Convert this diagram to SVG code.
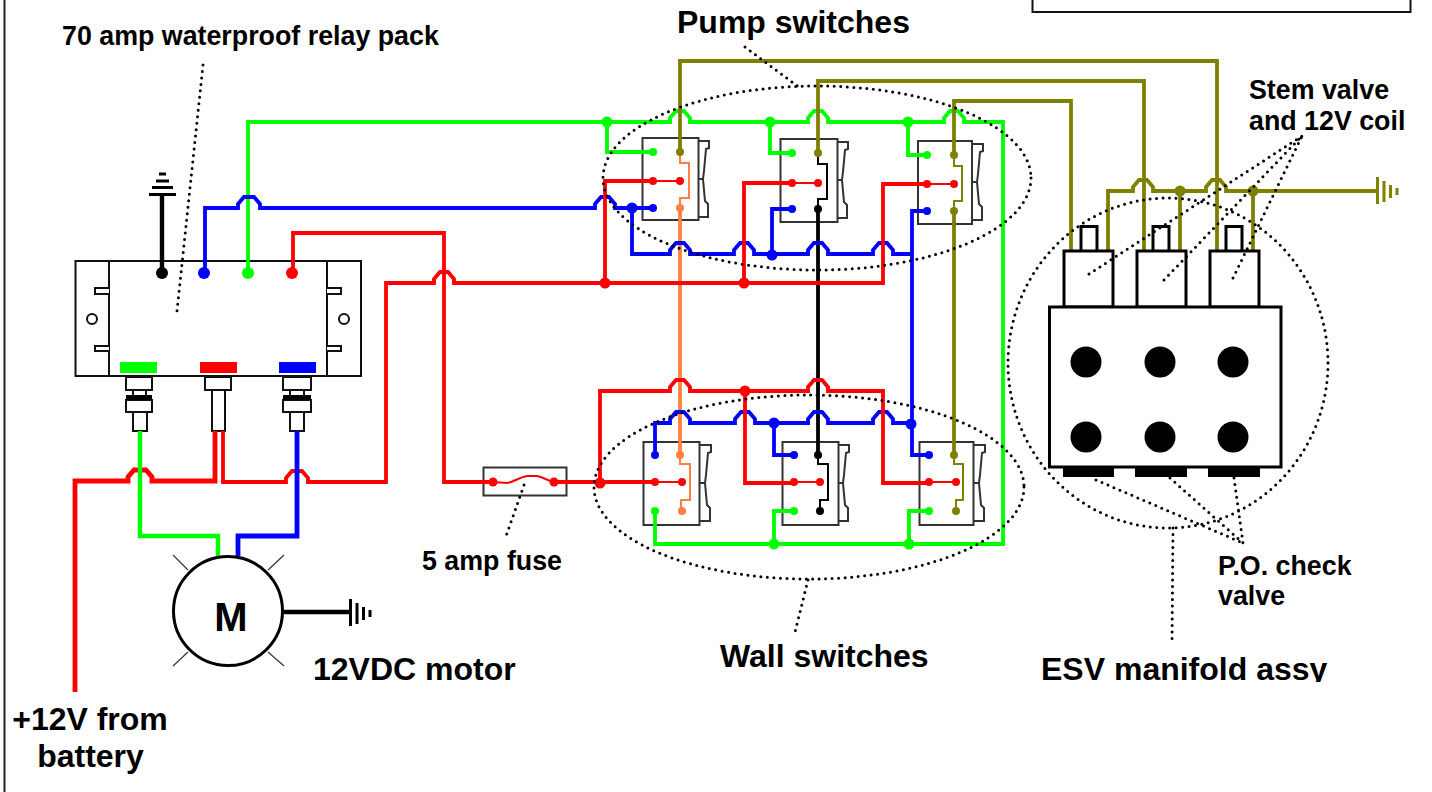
<svg xmlns="http://www.w3.org/2000/svg" width="1432" height="792" viewBox="0 0 1432 792">
<style>
text{font-family:"Liberation Sans",Arial,sans-serif;font-weight:bold;fill:#000}
.s{font-size:26.800px}.l{font-size:32px}
.w{fill:none;stroke-linejoin:miter}
.t{stroke-width:3.800}.n{stroke-width:2}.k{stroke-width:4.800}.h{stroke-width:4.400}
.g{stroke:#00ff00}.b{stroke:#0000ff}.r{stroke:#ff0000}.o{stroke:#808000}.a{stroke:#ff8040}.K{stroke:#000}
.box{fill:#fff;stroke:#333;stroke-width:2}
.rk{fill:none;stroke:#333;stroke-width:2}
.bk{fill:#fff;stroke:#111;stroke-width:2}
.m{fill:#fff;stroke:#000;stroke-width:3}
.dot{fill:none;stroke:#000;stroke-width:3;stroke-linecap:round;stroke-dasharray:0 6.500}
.fg{fill:#00ff00}.fb{fill:#0000ff}.fr{fill:#ff0000}.fo{fill:#808000}.fa{fill:#ff8040}.fk{fill:#000}
</style>
<defs>
<path id="rocker" d="M0 3H11V10L8 11L6 33L5 41L7 63L10 66V79H0M0 41H5"/>
<clipPath id="esvclip"><rect x="1030" y="640" width="310" height="42"/></clipPath>
</defs>
<rect width="1432" height="792" fill="#fff"/>
<path d="M4.500 0V792" stroke="#222" stroke-width="2" fill="none"/>
<rect x="1032.500" y="-4" width="378" height="16" fill="#fff" stroke="#111" stroke-width="2"/>

<g id="relay-pack">
<rect x="75.500" y="261" width="285.500" height="115" class="bk"/>
<path d="M109 261V376M327 261V376" stroke="#111" stroke-width="2"/>
<path class="bk" d="M109 288H95V294H109M109 346H95V351H109M327 288H341V294H327M327 346H341V351H327"/>
<circle cx="92" cy="319" r="5" class="bk"/><circle cx="344" cy="319" r="5" class="bk"/>
<rect x="120" y="362" width="37" height="11" class="fg"/>
<rect x="200" y="362" width="37" height="11" class="fr"/>
<rect x="279" y="362" width="37" height="11" class="fb"/>
<circle cx="162" cy="273" r="6" class="fk"/><circle cx="204" cy="273" r="6" class="fb"/><circle cx="248" cy="273" r="6" class="fg"/><circle cx="292" cy="273" r="6" class="fr"/>
<path d="M149 194.500H176M152 187.500H173M156 181H169M159 174H166" stroke="#000" stroke-width="3" fill="none"/>
<path class="bk" d="M126 377H152V390H126ZM133 390H146V396H133ZM126 400H152V412H126ZM133 412H147V431H133Z"/>
<rect x="126" y="395" width="26" height="5" class="fk"/>
<path class="bk" d="M205 377H231V390H205ZM212 390H225V431H212Z"/>
<path class="bk" d="M283 377H311V390H283ZM290 390H304V396H290ZM283 400H311V412H283ZM290 412H304V431H290Z"/>
<rect x="283" y="395" width="28" height="5" class="fk"/>
</g>

<g id="fuse">
<rect x="483.500" y="467.500" width="83" height="28" fill="#fff" stroke="#333" stroke-width="2"/>
<path d="M493 482L507 483C514 482 520 477 527 476H537C543 477 548 481 554 482" stroke="#ff0000" stroke-width="2" fill="none"/>
<circle cx="493" cy="482" r="4.500" class="fr"/><circle cx="554" cy="482" r="4.500" class="fr"/>
</g>

<g id="pump-switch-1">
<rect x="642.500" y="138" width="56" height="82" class="box"/>
<use href="#rocker" x="698" y="138" class="rk"/>
<path class="w n a" d="M680 152V163H689V198H680V208"/>
<path class="w n r" d="M653 181H680"/>
<circle cx="653" cy="152" r="4" class="fg"/><circle cx="653" cy="181" r="4" class="fr"/><circle cx="653" cy="208" r="4" class="fb"/><circle cx="680" cy="152" r="4" class="fo"/><circle cx="680" cy="181" r="4" class="fr"/><circle cx="680" cy="208" r="4" class="fa"/>
</g>
<g id="pump-switch-2">
<rect x="780.500" y="139" width="57" height="83" class="box"/>
<use href="#rocker" x="837" y="139" class="rk"/>
<path class="w n K" d="M818 153V164H827V199H818V209"/>
<path class="w n r" d="M792 183H818"/>
<circle cx="792" cy="153" r="4" class="fg"/><circle cx="792" cy="183" r="4" class="fr"/><circle cx="792" cy="209" r="4" class="fb"/><circle cx="818" cy="153" r="4" class="fo"/><circle cx="818" cy="183" r="4" class="fr"/><circle cx="818" cy="209" r="4" class="fk"/>
</g>
<g id="pump-switch-3">
<rect x="918" y="141" width="54" height="83" class="box"/>
<use href="#rocker" x="972" y="141" class="rk"/>
<path class="w n o" d="M954 155V166H962V201H954V211"/>
<path class="w n r" d="M927 184H954"/>
<circle cx="927" cy="155" r="4" class="fg"/><circle cx="927" cy="184" r="4" class="fr"/><circle cx="927" cy="211" r="4" class="fb"/><circle cx="954" cy="155" r="4" class="fo"/><circle cx="954" cy="184" r="4" class="fr"/><circle cx="954" cy="211" r="4" class="fo"/>
</g>
<g id="wall-switch-1">
<rect x="643.500" y="442" width="56" height="83" class="box"/>
<use href="#rocker" x="700" y="442" class="rk"/>
<path class="w n a" d="M680 455V464H690V500H681V511"/>
<path class="w n r" d="M655 482H682"/>
<circle cx="655" cy="455" r="4" class="fb"/><circle cx="655" cy="482" r="4" class="fr"/><circle cx="655" cy="511" r="4" class="fg"/><circle cx="680" cy="455" r="4" class="fa"/><circle cx="682" cy="482" r="4" class="fr"/><circle cx="682" cy="511" r="4" class="fa"/>
</g>
<g id="wall-switch-2">
<rect x="782.500" y="442" width="56" height="83" class="box"/>
<use href="#rocker" x="838" y="442" class="rk"/>
<path class="w n K" d="M818 455V464H828V500H820V511"/>
<path class="w n r" d="M794 482H820"/>
<circle cx="794" cy="455" r="4" class="fb"/><circle cx="794" cy="482" r="4" class="fr"/><circle cx="794" cy="511" r="4" class="fg"/><circle cx="818" cy="455" r="4" class="fk"/><circle cx="820" cy="482" r="4" class="fr"/><circle cx="820" cy="511" r="4" class="fk"/>
</g>
<g id="wall-switch-3">
<rect x="919.500" y="442" width="54" height="83" class="box"/>
<use href="#rocker" x="974" y="442" class="rk"/>
<path class="w n o" d="M954 455V464H963V500H956V511"/>
<path class="w n r" d="M929 482H956"/>
<circle cx="929" cy="455" r="4" class="fb"/><circle cx="929" cy="482" r="4" class="fr"/><circle cx="929" cy="511" r="4" class="fg"/><circle cx="954" cy="455" r="4" class="fo"/><circle cx="956" cy="482" r="4" class="fr"/><circle cx="956" cy="511" r="4" class="fo"/>
</g>

<g id="connectors">
<path class="w t a" d="M680 208V455"/>
<path class="w t K" d="M818 209V455"/>
<path class="w h K" d="M162 273V194M284 612H350"/>
<path class="w t o" d="M954 211V455"/>
<path class="w t g" d="M248 272V122H670V118L676 111H684L690 118V122H808V118L814 111H822L828 118V122H944V118L950 111H958L964 118V122H1003V544H655V511"/>
<path class="w t g" d="M607 122V152H653M770 122V153H792M908 122V155H927M774 544V511H794M909 544V511H929"/>
<path class="w t b" d="M205 272V208H238V204L244 197H254L260 204V208H595V204L601 197H609L615 204V208H653M632 208V254H670V250L676 243H684L690 250V254H734V250L740 243H748L754 250V254H808V250L814 243H822L828 250V254H873V250L879 243H887L893 250V254H912V211H927M772 254V209H792M912 254V455H929M912 423H893V419L887 412H879L873 419V423H828V419L822 412H814L808 419V423H755V419L749 412H741L735 419V423H690V419L684 412H676L670 419V423H655V455M774 423V455H794"/>
<path class="w t r" d="M293 272V233H444V482H493M554 482H655"/>
<path class="w t r" d="M223 431V482H286V478L292 471H302L308 478V482H386V283H434V279L440 272H448L454 279V283H883V184H927M605 283V181H653M744 283V183H792"/>
<path class="w t r" d="M600 483V391H670V387L676 380H684L690 387V391H808V387L814 380H822L828 387V391H883V483H929M745 391V483H794"/>
<path class="w k r" d="M75 692V481H128V477L134 470H146L152 477V481H215V431"/>
<path class="w h g" d="M140 431V536H218V556"/>
<path class="w k b" d="M297 431V536H238V556"/>
<path class="w t o" d="M680 152V61H1217V251M818 153V81H1144V251M954 155V101H1071V251M1108 251V191H1133V187L1139 180H1147L1153 187V191H1206V187L1212 180H1220L1226 187V191H1377M1180 191V251M1253 191V251"/>
</g>

<g id="motor">
<circle cx="228" cy="611" r="54.500" fill="#fff" stroke="#000" stroke-width="3"/>
<path d="M173 555L188 570M284 555L268 570M173 666L188 652M284 666L268 652" stroke="#333" stroke-width="1.200" fill="none"/>
<path d="M350.500 599V626M357 603V624M363.500 607V620M370 610V617" stroke="#000" stroke-width="3" fill="none"/>
<text x="231" y="631" font-size="40" text-anchor="middle">M</text>
</g>

<g id="junctions">
<circle cx="607" cy="122" r="5.500" class="fg"/><circle cx="770" cy="122" r="5.500" class="fg"/><circle cx="908" cy="122" r="5.500" class="fg"/>
<circle cx="632" cy="208" r="5.500" class="fb"/><circle cx="772" cy="255" r="5.500" class="fb"/><circle cx="605" cy="283" r="5.500" class="fr"/><circle cx="744" cy="283" r="5.500" class="fr"/>
<circle cx="745" cy="391" r="5.500" class="fr"/><circle cx="774" cy="423" r="5.500" class="fb"/><circle cx="911" cy="424" r="5.500" class="fb"/><circle cx="600" cy="483" r="5.500" class="fr"/>
<circle cx="774" cy="544" r="5.500" class="fg"/><circle cx="909" cy="544" r="5.500" class="fg"/>
<circle cx="1180" cy="191" r="5.500" class="fo"/><circle cx="1253" cy="191" r="5.500" class="fo"/>
</g>

<g id="coil-ground">
<path d="M1377.500 177V204M1384 181V202M1390.500 185V198M1397 188V195" stroke="#808000" stroke-width="3" fill="none"/>
</g>

<g id="esv-manifold">
<path d="M1081 251V226.500H1097V251M1153 251V226.500H1169V251M1226 251V226.500H1242V251" class="m"/>
<rect x="1064" y="251" width="49" height="56" class="m"/>
<rect x="1137" y="251" width="49" height="56" class="m"/>
<rect x="1210" y="251" width="49" height="56" class="m"/>
<rect x="1049.500" y="307" width="231.500" height="160" class="m"/>
<g class="fk">
<circle cx="1086" cy="362" r="15.500"/><circle cx="1160" cy="362" r="15.500"/><circle cx="1233" cy="362" r="15.500"/>
<circle cx="1086" cy="437" r="15.500"/><circle cx="1160" cy="437" r="15.500"/><circle cx="1233" cy="437" r="15.500"/>
<rect x="1063" y="467" width="51" height="10"/><rect x="1135" y="467" width="52" height="10"/><rect x="1208" y="467" width="52" height="10"/>
</g>
</g>

<g id="callouts">
<ellipse cx="817" cy="178" rx="214" ry="92" class="dot"/>
<ellipse cx="809" cy="487" rx="215" ry="92" class="dot"/>
<ellipse cx="1168" cy="363" rx="160" ry="165" class="dot"/>
<path class="dot" d="M203 65L177 311M745 47L800 88M808 580L795 632M524 485L505 539M1173 528L1172 643M1096 480L1243 543M1170 478L1243 543M1234 478L1243 543M1089 274L1302 136M1164 280L1302 136M1233 278L1302 136"/>
</g>

<g id="labels">
<text x="677" y="33" class="l">Pump switches</text>
<text x="62" y="45" class="s">70 amp waterproof relay pack</text>
<text x="1249" y="99" class="s">Stem valve</text>
<text x="1249" y="130" class="s">and 12V coil</text>
<text x="422" y="570" class="s">5 amp fuse</text>
<text x="1218" y="575" class="s">P.O. check</text>
<text x="1218" y="605" class="s">valve</text>
<text x="720" y="667" class="l">Wall switches</text>
<text x="1041" y="680" class="l" clip-path="url(#esvclip)">ESV manifold assy</text>
<text x="313" y="680" class="l">12VDC motor</text>
<text x="90" y="730" class="l" text-anchor="middle">+12V from</text>
<text x="90.500" y="767" class="l" text-anchor="middle">battery</text>
</g>
</svg>
